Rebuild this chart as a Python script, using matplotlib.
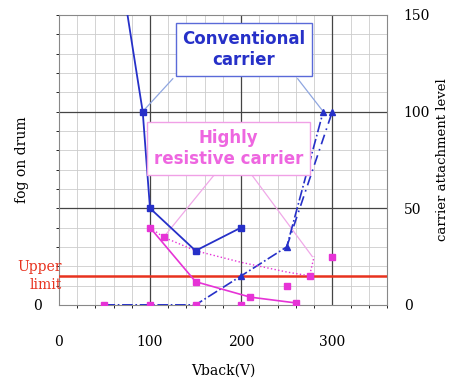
import numpy as np
import matplotlib
matplotlib.use('Agg')
import matplotlib.pyplot as plt

# conventional carrier: fog on drum (solid) and carrier attachment (dash-dot)
conv_fog_x = [72, 92, 100, 150, 200]
conv_fog_y = [160, 100, 50, 28, 40]
conv_att_x = [50, 100, 150, 200, 250, 290]
conv_att_y = [0, 0, 0, 15, 30, 100]
conv_att2_x = [250, 300]
conv_att2_y = [30, 100]

# highly resistive carrier: fog on drum (solid) and carrier attachment (dotted)
hr_fog_x = [100, 150, 210, 260]
hr_fog_y = [40, 12, 4, 1]
hr_att_x = [100, 115, 150, 200, 250, 275, 280]
hr_att_y = [40, 35, 28, 22, 17, 15, 25]
hr_pts_x = [50, 100, 150, 200, 250, 300]
hr_pts_y = [0, 0, 0, 0, 10, 25]

upper_limit = 15
xticks = [0, 100, 200, 300]
rticks = [0, 50, 100, 150]

blue = '#2630c8'
pink = '#e633d6'

fig = plt.figure(figsize=(4.49, 3.83), dpi=100)
ax = fig.add_axes([0.131, 0.204, 0.731, 0.757])
ax.set_xlim(0, 360)
ax.set_ylim(0, 150)

# grid
ax.set_xticks(np.arange(0, 361, 20), minor=True)
ax.set_yticks(np.arange(0, 151, 10), minor=True)
ax.grid(which='minor', color='#cccccc', lw=0.6)
for v in [100, 200, 300]:
    ax.axvline(v, color='#444444', lw=0.9, zorder=2)
for v in [50, 100]:
    ax.axhline(v, color='#444444', lw=0.9, zorder=2)
for s in ax.spines.values():
    s.set_color('#888888')

ax.set_xticks(xticks)
ax.set_xticklabels([str(t) for t in xticks], family='serif', fontsize=10)
ax.set_yticks([0])
ax.set_yticklabels(['0'], family='serif', fontsize=10)
ax.tick_params(length=0, pad=22)
ax.tick_params(axis='y', pad=12)

ax2 = ax.twinx()
ax2.set_ylim(0, 150)
ax2.set_yticks(rticks)
ax2.set_yticklabels([str(t) for t in rticks], family='serif', fontsize=10)
ax2.tick_params(length=0, pad=12)
for s in ax2.spines.values():
    s.set_visible(False)

ax.set_xlabel('Vback(V)', family='serif', fontsize=10, labelpad=10)
ax.set_ylabel('fog on drum', family='serif', fontsize=10, labelpad=3)
ax2.set_ylabel('carrier attachment level', family='serif', fontsize=9.5, labelpad=4)

# upper limit
ax.axhline(upper_limit, color='#e8321e', lw=1.8, zorder=3)
ax.text(3, upper_limit, 'Upper\nlimit', color='#e8321e', family='serif', fontsize=10,
        ha='right', va='center', linespacing=1.3, zorder=6)

# series
ax.plot(conv_fog_x, conv_fog_y, color=blue, lw=1.3, zorder=4)
ax.plot(conv_fog_x[1:], conv_fog_y[1:], ls='none', marker='s', ms=5, color=blue, zorder=5)
ax.plot(conv_att_x, conv_att_y, color=blue, lw=1.2, ls='-.', zorder=4)
ax.plot(conv_att2_x, conv_att2_y, color=blue, lw=1.2, ls=(0, (6, 3, 1, 3)), zorder=4)
ax.plot([200, 250, 290, 300], [15, 30, 100, 100], ls='none', marker='^', ms=5,
        color=blue, zorder=5)
ax.plot(hr_fog_x, hr_fog_y, color=pink, lw=1.2, marker='s', ms=5, zorder=4)
ax.plot(hr_att_x, hr_att_y, color=pink, lw=1.0, ls=':', zorder=4)
ax.plot(hr_pts_x, hr_pts_y, ls='none', marker='s', ms=5, color=pink, zorder=5)
ax.plot([115, 275], [35, 15], ls='none', marker='s', ms=4, color=pink, zorder=5)

# callouts
ax.plot([125, 92], [117, 100], color='#8fa6e0', lw=0.9, zorder=3)
ax.plot([262, 290], [117, 100], color='#8fa6e0', lw=0.9, zorder=3)
ax.text(203, 132, 'Conventional\ncarrier', color=blue, fontsize=12, fontweight='bold',
        ha='center', va='center', linespacing=1.25, zorder=6,
        bbox=dict(boxstyle='square,pad=0.4', fc='white', ec='#5a6ad8', lw=1.0))
ax.plot([170, 115], [67, 35], color='#f0a8e8', lw=0.9, zorder=3)
ax.plot([212, 278], [67, 25], color='#f0a8e8', lw=0.9, zorder=3)
ax.text(186, 81, 'Highly\nresistive carrier', color='#ee66e0', fontsize=12, fontweight='bold',
        ha='center', va='center', linespacing=1.25, zorder=6,
        bbox=dict(boxstyle='square,pad=0.4', fc='white', ec='#f0a0e6', lw=1.0))

fig.savefig('out.png', dpi=100)
